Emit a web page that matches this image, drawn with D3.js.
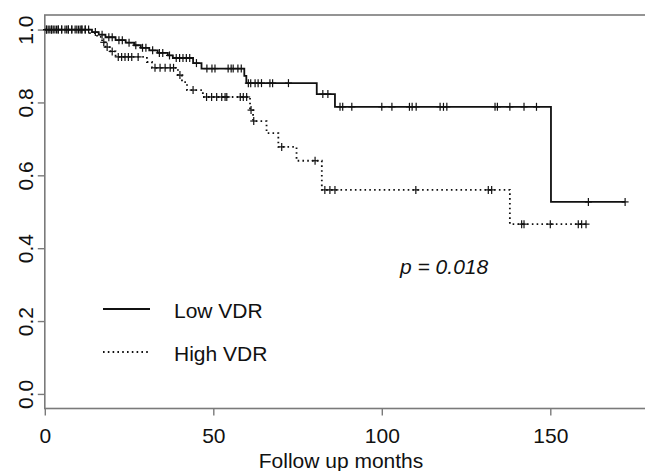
<!DOCTYPE html>
<html><head><meta charset="utf-8">
<script src="https://cdn.jsdelivr.net/npm/d3@7"></script>
<style>
html,body{margin:0;padding:0;background:#fff;}
svg{display:block;font-family:"Liberation Sans",Arial,sans-serif;}
</style></head>
<body><svg id="c" width="645" height="471"></svg>
<script>
// ---- data ----
const seriesNames = ["Low VDR", "High VDR"];
const lowTimes = [14, 16, 18, 21, 24, 26.5, 28.5, 31, 33.5, 36.5, 38, 44, 46.5, 59.2, 59.8, 80.7, 86.1, 150.2];
const lowSurv  = [0.993, 0.986, 0.979, 0.971, 0.964, 0.957, 0.950, 0.943, 0.936, 0.929, 0.922, 0.908, 0.893, 0.873, 0.853, 0.823, 0.788, 0.527];
const lowEnd = 172.2;
const lowCensor = [0.5,1,1.5,2,3,3.5,4,5,6,6.5,7,8,9,10,10.5,11,12,13,15,17,19,20,22,23,25,27,29,30,32,34,35,37,39,40,41,42,43,45,
  48.1,49.6,50.5,54.4,55.3,55.9,57.3,58.3,60.4,61.1,62.4,63.3,64.3,66.8,67.6,72.3,82.5,84,87.6,88.4,91.1,100,103,108.2,109,110.2,
  117.3,118.3,119.3,133.6,134.3,138,142.2,145.9,161.3,172.2];
const highTimes = [13, 15.5, 17, 18, 19.5, 21, 30.3, 31.8, 39.5, 40.7, 42.2, 46.9, 60.9, 61.8, 65.8, 69.3, 74.7, 82.2, 138];
const highSurv  = [0.99, 0.98, 0.965, 0.952, 0.94, 0.925, 0.911, 0.895, 0.875, 0.856, 0.834, 0.815, 0.779, 0.749, 0.716, 0.678, 0.640, 0.560, 0.466];
const highEnd = 160.6;
const highCensor = [0.5,2,2.5,4,5,7,8,9.5,11,12,17.5,18.5,20,21.8,22.8,23.8,24.8,25.8,27.7,32.7,34.2,35.7,37.2,38.2,40.1,44,
  48,49.5,51,52.5,53.5,54,58,58.9,59.9,61.2,62,70.3,80.2,83.1,84.6,86.1,110.1,131.6,132.6,141.5,142.2,150,158.3,159.3,160.6];
const xTicks = [0, 50, 100, 150];
const yTicks = [0, 0.2, 0.4, 0.6, 0.8, 1.0];
const xLabel = "Follow up months";
const pText = "p = 0.018";

// ---- layout ----
const svg = d3.select("#c");
const x = d3.scaleLinear().domain([0, 180]).range([44.8, 44.8 + 180 * 3.37]);
const y = d3.scaleLinear().domain([-0.04, 1.04]).range([408.5, 15]);
const axisCol = "#7a7a7a";

// box
svg.append("rect").attr("x", x(0)).attr("y", y(1.04)).attr("width", 700).attr("height", y(-0.04) - y(1.04))
  .attr("fill", "none").attr("stroke", axisCol).attr("stroke-width", 1.6);

// axes
const gx = svg.append("g").attr("transform", `translate(0,${y(-0.04)})`)
  .call(d3.axisBottom(x).tickValues(xTicks).tickSize(7).tickPadding(13).tickSizeOuter(0));
gx.select(".domain").remove();
gx.selectAll("line").attr("stroke", axisCol).attr("stroke-width", 1.4);
gx.selectAll("text").attr("font-size", 21).attr("fill", "#111").attr("font-family", "Liberation Sans, Arial, sans-serif");

const gy = svg.append("g").attr("transform", `translate(${x(0)},0)`)
  .call(d3.axisLeft(y).tickValues(yTicks).tickFormat(d3.format(".1f")).tickSize(7).tickSizeOuter(0));
gy.select(".domain").remove();
gy.selectAll("line").attr("stroke", axisCol).attr("stroke-width", 1.4);
gy.selectAll("text").attr("font-size", 21).attr("fill", "#111").attr("font-family", "Liberation Sans, Arial, sans-serif")
  .attr("transform", "rotate(-90)").attr("x", 0).attr("y", -12).attr("dy", 0).attr("text-anchor", "middle");

svg.append("text").attr("x", 341).attr("y", 468).attr("text-anchor", "middle")
  .attr("font-size", 21).attr("fill", "#111").text(xLabel);

// curves
function stepPoints(times, surv, end) {
  const pts = [[0, 1]];
  times.forEach((t, i) => pts.push([t, surv[i]]));
  pts.push([end, surv[surv.length - 1]]);
  return pts;
}
function survAt(times, surv, t) {
  let s = 1;
  times.forEach((tt, i) => { if (tt <= t) s = surv[i]; });
  return s;
}
const line = d3.line().x(d => x(d[0])).y(d => y(d[1])).curve(d3.curveStepAfter);

const series = [
  {times: lowTimes, surv: lowSurv, end: lowEnd, cens: lowCensor, dash: null, w: 1.8},
  {times: highTimes, surv: highSurv, end: highEnd, cens: highCensor, dash: "1.6,3.2", w: 1.8}
];
series.forEach(s => {
  svg.append("path").attr("d", line(stepPoints(s.times, s.surv, s.end)))
    .attr("fill", "none").attr("stroke", "#111").attr("stroke-width", s.w)
    .attr("stroke-dasharray", s.dash);
  const g = svg.append("g").attr("stroke", "#111").attr("stroke-width", 1.2);
  s.cens.forEach(t => {
    const cx = x(t), cy = y(survAt(s.times, s.surv, t));
    g.append("line").attr("x1", cx - 3.5).attr("x2", cx + 3.5).attr("y1", cy).attr("y2", cy);
    g.append("line").attr("x1", cx).attr("x2", cx).attr("y1", cy - 4).attr("y2", cy + 4);
  });
});

// legend
const leg = [{y: 309, dash: null}, {y: 352, dash: "1.6,3.2"}];
leg.forEach((l, i) => {
  svg.append("line").attr("x1", 103).attr("x2", 150).attr("y1", l.y).attr("y2", l.y)
    .attr("stroke", "#111").attr("stroke-width", 1.8).attr("stroke-dasharray", l.dash);
  svg.append("text").attr("x", 174).attr("y", l.y + 8.5).attr("font-size", 21).attr("fill", "#111").text(seriesNames[i]);
});
svg.append("text").attr("x", 400).attr("y", 274).attr("font-size", 21).attr("font-style", "italic")
  .attr("fill", "#111").text(pText);
</script></body></html>
